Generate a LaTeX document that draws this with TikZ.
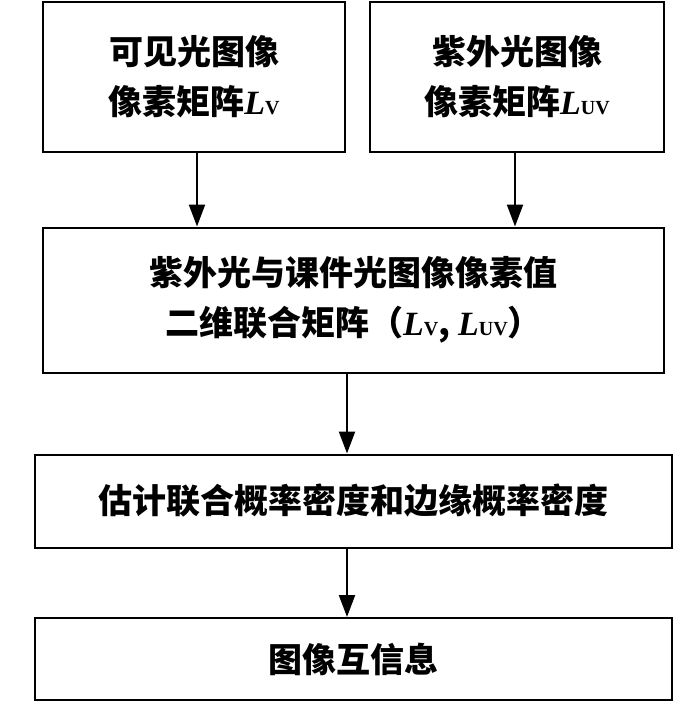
\documentclass[tikz,border=0pt]{standalone}
\usepackage{fontspec}
\setmainfont{Liberation Serif}
\newfontfamily\cjk{Noto Sans CJK SC}
\usetikzlibrary{arrows.meta}
\newcommand{\LL}[1]{{\rmfamily\bfseries\itshape L}{\rmfamily\fontsize{20}{20}\selectfont\bfseries #1}}
\begin{document}
\begin{tikzpicture}[x=1pt,y=-1pt,
  bx/.style={draw,line width=2pt,align=center,font=\cjk\fontsize{34}{50}\selectfont\bfseries},
  ar/.style={line width=2.2pt,-{Triangle[length=22pt,width=16pt]}}]
\useasboundingbox (0,0) rectangle (699,714);
\node[bx,minimum width=302pt,minimum height=150pt] (a) at (194,77) {可见光图像\\像素矩阵\LL{V}};
\node[bx,minimum width=294pt,minimum height=150pt] (b) at (517,77) {紫外光图像\\像素矩阵\LL{UV}};
\node[bx,minimum width=621pt,minimum height=145pt] (c) at (353.5,300) {紫外光与课件光图像像素值\\二维联合矩阵（\LL{V}, \LL{UV}）};
\node[bx,minimum width=637pt,minimum height=93pt] (d) at (353.5,501) {估计联合概率密度和边缘概率密度};
\node[bx,minimum width=637pt,minimum height=82pt] (e) at (353.5,659) {图像互信息};
\draw[ar] (a.south -| 197,0) -- (c.north -| 197,0);
\draw[ar] (b.south -| 515,0) -- (c.north -| 515,0);
\draw[ar] (c.south -| 347,0) -- (d.north -| 347,0);
\draw[ar] (d.south -| 347,0) -- (e.north -| 347,0);
\end{tikzpicture}
\end{document}
